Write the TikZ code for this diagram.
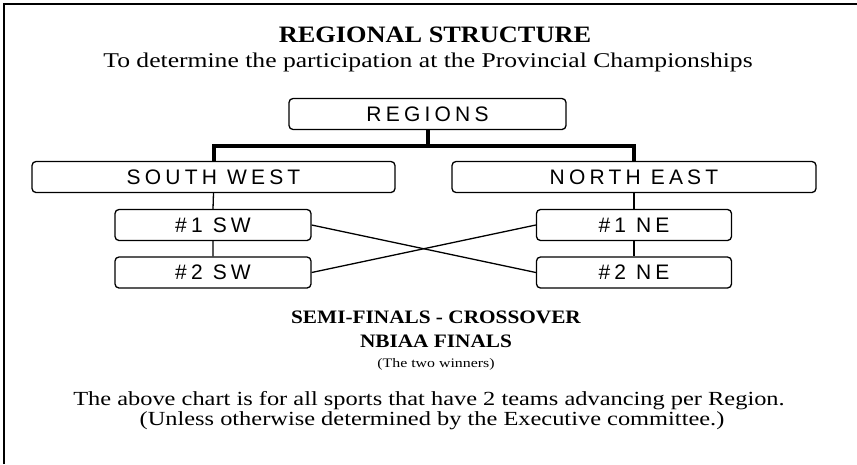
\documentclass[tikz,border=0pt]{standalone}
\usepackage{fontspec}
\setmainfont{Liberation Serif}[FakeStretch=1.22]
\newfontfamily\headfont{Liberation Serif}[FakeStretch=1.12]
\newfontfamily\boxfont{Liberation Sans}[LetterSpace=20]
\tikzset{
  regbox/.style={draw, line width=1.3pt, rounded corners=4pt, minimum height=31pt,
    inner sep=0pt, font={\boxfont\fontsize{21}{23}\selectfont}},
  trunk/.style={line width=4pt},
  twig/.style={line width=1.3pt},
}
\begin{document}
\begin{tikzpicture}[x=1pt, y=-1pt]
      \useasboundingbox (0,0) rectangle (857,464);
      \draw[line width=2.7pt] (4,464) -- (4,4) -- (857,4);      % frame
      %
      \node[anchor=base, font={\headfont\bfseries\fontsize{23.5}{26}\selectfont}] (title) at (435,42) {REGIONAL STRUCTURE};
      \node[anchor=base, font={\fontsize{21}{24}\selectfont}] (subtitle) at (428,67) {To determine the participation at the Provincial Championships};
      %
      \node[regbox, minimum width=277pt] (regions) at (427.5,114) {REGIONS};   % top
      \node[regbox, minimum width=363pt] (sw) at (213.5,177) {SOUTH WEST};     % regions row
      \node[regbox, minimum width=364pt] (ne) at (634,177) {NORTH EAST};
      \node[regbox, minimum width=196pt] (sw1) at (213,225) {\#1 SW};          % first row
      \node[regbox, minimum width=195pt] (ne1) at (634,225) {\#1 NE};
      \node[regbox, minimum width=196pt] (sw2) at (213,272.5) {\#2 SW};        % second row
      \node[regbox, minimum width=195pt] (ne2) at (634,272.5) {\#2 NE};
      %
      \draw[trunk] (regions.south) -- ++(0,16) -| (sw.north);
      \draw[trunk] (regions.south) ++(0,16) -| (ne.north);
      \draw[twig] (sw.south) -- (sw1.north) (sw1.south) -- (sw2.north);
      \draw[twig] (ne.south) -- (ne1.north) (ne1.south) -- (ne2.north);
      \draw[twig] (sw1.east) -- (ne2.west);                                     % crossover
      \draw[twig] (sw2.east) -- (ne1.west);
      %
      \node[anchor=base, font={\headfont\bfseries\fontsize{19}{21}\selectfont}] (semi) at (436,323) {SEMI-FINALS - CROSSOVER};
      \node[anchor=base, font={\headfont\bfseries\fontsize{19}{21}\selectfont}] (finals) at (436,347) {NBIAA FINALS};
      \node[anchor=base, font={\fontsize{13}{15}\selectfont}] (winners) at (436,367) {(The two winners)};
      %
      \node[anchor=base, font={\fontsize{20}{22}\selectfont}] (chart) at (429,405) {The above chart is for all sports that have 2 teams advancing per Region.};
      \node[anchor=base, font={\fontsize{20}{22}\selectfont}] (unless) at (432,425) {(Unless otherwise determined by the Executive committee.)};
    \end{tikzpicture}
\end{document}
